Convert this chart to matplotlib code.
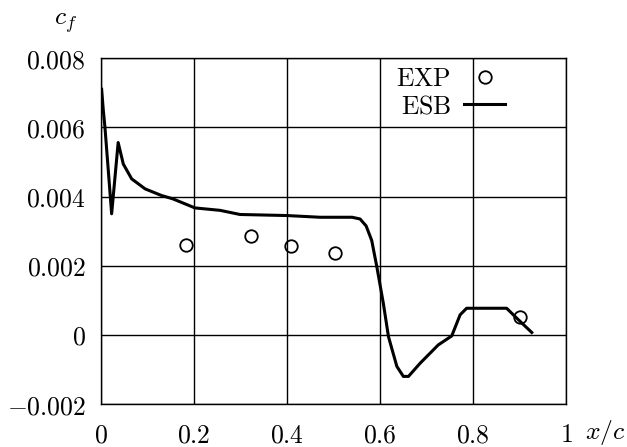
"""Skin friction coefficient along the chord: experiment vs ESB."""

import matplotlib
import numpy as np

matplotlib.use("Agg")
import matplotlib.pyplot as plt
from matplotlib.lines import Line2D

plt.rcParams["mathtext.fontset"] = "cm"
plt.rcParams["font.family"] = "serif"
plt.rcParams["font.serif"] = ["DejaVu Serif"]

# Experimental data (open circles)
exp_x = [0.183, 0.323, 0.409, 0.503, 0.901]
exp_cf = [0.00259, 0.00286, 0.00256, 0.00238, 0.00053]

# ESB computation (solid line)
esb_x = [0.0015, 0.005, 0.0086, 0.023, 0.037, 0.048, 0.066, 0.095, 0.13,
         0.155, 0.202, 0.256, 0.299, 0.399, 0.471, 0.54, 0.557, 0.57,
         0.582, 0.593, 0.607, 0.618, 0.636, 0.65, 0.661, 0.686, 0.725,
         0.754, 0.772, 0.786, 0.872, 0.894, 0.926]
esb_cf = [0.0071, 0.0065, 0.0060, 0.0035, 0.00556, 0.00494, 0.00451,
          0.00422, 0.00403, 0.00393, 0.00367, 0.0036, 0.00348, 0.00345,
          0.0034, 0.0034, 0.00335, 0.00315, 0.00273, 0.00197, 0.00091,
          -0.00005, -0.00091, -0.0012, -0.0012, -0.00082, -0.00029,
          -0.00003, 0.00058, 0.00077, 0.00077, 0.00048, 0.00007]

x_ticks = [0, 0.2, 0.4, 0.6, 0.8, 1]
x_labels = ["0", "0.2", "0.4", "0.6", "0.8", "1"]
y_ticks = [-0.002, 0, 0.002, 0.004, 0.006, 0.008]
y_labels = ["-0.002", "0", "0.002", "0.004", "0.006", "0.008"]

fs = 18.5
fig = plt.figure(figsize=(6.27, 4.47), dpi=100)
ax = fig.add_axes([0.161, 0.096, 0.742, 0.774])

ax.plot(esb_x, esb_cf, color="black", linewidth=2.2, solid_joinstyle="round")
ax.plot(exp_x, exp_cf, linestyle="none", marker="o", markersize=9,
        markerfacecolor="none", markeredgecolor="black", markeredgewidth=1.3)

ax.set_xlim(0, 1)
ax.set_ylim(-0.002, 0.008)
ax.set_xticks(x_ticks)
ax.set_xticklabels([f"${s}$" for s in x_labels], fontsize=fs)
ax.set_yticks(y_ticks)
ax.set_yticklabels([f"${s}$" for s in y_labels], fontsize=fs)
ax.tick_params(axis="both", length=0)
ax.tick_params(axis="x", pad=13)
ax.tick_params(axis="y", pad=11)
ax.grid(True, color="black", linewidth=1.0)
for sp in ax.spines.values():
    sp.set_linewidth(1.0)

fig.text(0.965, 0.032, "$x/c$", fontsize=fs, ha="center", va="center")
fig.text(0.104, 0.95, "$c_f$", fontsize=fs, ha="center", va="center")

handles = [
    Line2D([], [], linestyle="none", marker="o", markersize=9,
           markerfacecolor="none", markeredgecolor="black", markeredgewidth=1.3),
    Line2D([], [], color="black", linewidth=2.2),
]
ax.legend(handles, [r"$\mathrm{EXP}$", r"$\mathrm{ESB}$"], markerfirst=False,
          frameon=False, fontsize=fs, loc="upper left",
          bbox_to_anchor=(0.613, 1.008), handlelength=1.6, handletextpad=0.5,
          labelspacing=0.1, borderaxespad=0)

fig.savefig("out.png", dpi=100)
plt.close()
